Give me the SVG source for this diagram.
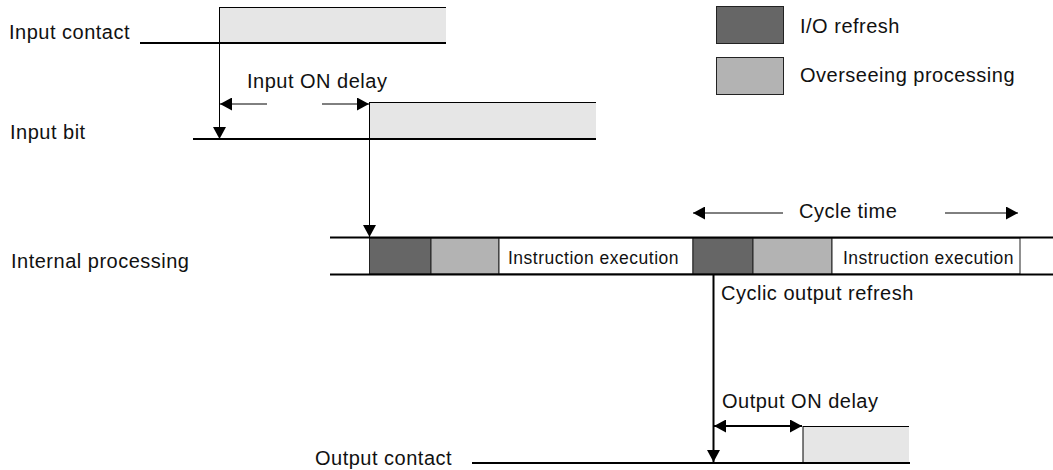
<svg xmlns="http://www.w3.org/2000/svg" width="1053" height="470" viewBox="0 0 1053 470">
<style>
text{font-family:"Liberation Sans",Arial,sans-serif;font-size:20px;letter-spacing:0.5px;fill:#111}
.small{font-size:17.5px;letter-spacing:0.5px}
.thick{stroke:#000;stroke-width:2;fill:none}
.thin{stroke:#000;stroke-width:1;fill:none}
.pale{fill:#e6e6e6;stroke:none}
.dark{fill:#666;stroke:#222;stroke-width:1}
.light{fill:#b3b3b3;stroke:#222;stroke-width:1}
.instr{fill:#fff;stroke:#222;stroke-width:1}
</style>
<defs>
<marker id="ah" markerUnits="userSpaceOnUse" markerWidth="13" markerHeight="13" viewBox="0 0 13 13" refX="12" refY="6.5" orient="auto">
<path d="M0,0 L12,6.5 L0,13 Z" fill="#000"/>
</marker>
</defs>

<g id="legend">
<rect class="dark" x="716.5" y="6.5" width="67" height="37"/>
<text x="800" y="33">I/O refresh</text>
<rect class="light" x="716.5" y="57.5" width="67" height="37"/>
<text x="800" y="82">Overseeing processing</text>
</g>

<g id="input-contact">
<text x="9" y="39">Input contact</text>
<rect class="pale" x="219" y="7" width="227" height="36"/>
<line class="thin" x1="219" y1="7.5" x2="446" y2="7.5"/>
<line class="thick" x1="140" y1="43" x2="446" y2="43"/>
</g>

<g id="input-bit">
<text x="10" y="139">Input bit</text>
<rect class="pale" x="369" y="102" width="227" height="37"/>
<line class="thin" x1="369" y1="102.5" x2="596" y2="102.5"/>
<line class="thick" x1="193" y1="139" x2="596" y2="139"/>
</g>

<g id="internal-processing">
<text x="11" y="268">Internal processing</text>
<rect class="dark" x="369.5" y="238" width="61.5" height="36"/>
<rect class="light" x="431" y="238" width="68" height="36"/>
<rect class="instr" x="499" y="238" width="194" height="36"/>
<text class="small" x="508" y="264">Instruction execution</text>
<rect class="dark" x="693" y="238" width="60" height="36"/>
<rect class="light" x="753" y="238" width="79" height="36"/>
<rect class="instr" x="832" y="238" width="188" height="36"/>
<text class="small" x="843" y="264">Instruction execution</text>
<line class="thick" x1="330" y1="237.5" x2="1053" y2="237.5"/>
<line class="thick" x1="330" y1="274.5" x2="1053" y2="274.5"/>
</g>

<g id="output-contact">
<text x="315" y="465">Output contact</text>
<rect class="pale" x="803" y="426" width="106" height="37"/>
<line class="thin" x1="803" y1="426.5" x2="909" y2="426.5"/>
<line class="thin" x1="803" y1="426" x2="803" y2="463"/>
<line class="thick" x1="472" y1="463" x2="910" y2="463"/>
</g>

<g id="connectors">
<line class="thin" x1="219.5" y1="7" x2="219.5" y2="139" marker-end="url(#ah)"/>
<line class="thin" x1="369.5" y1="102" x2="369.5" y2="237" marker-end="url(#ah)"/>
<line class="thin" x1="267" y1="104" x2="220" y2="104" marker-end="url(#ah)"/>
<line class="thin" x1="322" y1="104" x2="369" y2="104" marker-end="url(#ah)"/>
<text x="247" y="88">Input ON delay</text>
<line class="thin" x1="783" y1="213" x2="693" y2="213" marker-end="url(#ah)"/>
<line class="thin" x1="945" y1="213" x2="1018" y2="213" marker-end="url(#ah)"/>
<text x="799" y="218">Cycle time</text>
<line class="thick" x1="713.5" y1="275" x2="713.5" y2="462" marker-end="url(#ah)"/>
<text x="721" y="300">Cyclic output refresh</text>
<line class="thick" x1="758" y1="426" x2="714" y2="426" marker-end="url(#ah)"/>
<line class="thick" x1="758" y1="426" x2="802" y2="426" marker-end="url(#ah)"/>
<text x="722" y="408">Output ON delay</text>
</g>
</svg>
